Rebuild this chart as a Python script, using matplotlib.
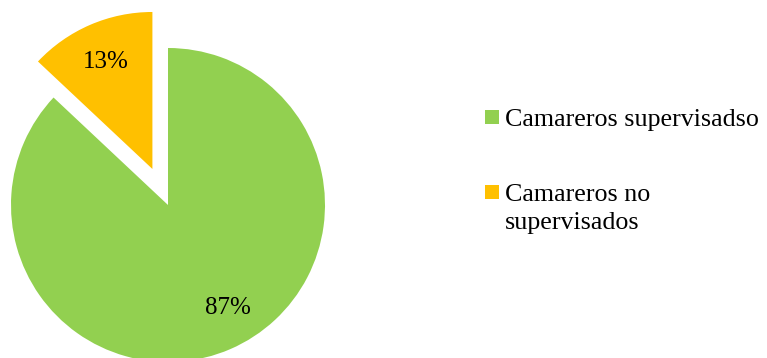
import numpy as np
import matplotlib
matplotlib.use("Agg")
import matplotlib.pyplot as plt
from matplotlib.patches import Rectangle

labels = ["Camareros supervisadso", "Camareros no\nsupervisados"]
values = [87, 13]
colors = ["#92D050", "#FFC000"]
explode = [0, 0.25]

plt.rcParams["font.family"] = ["Liberation Serif", "DejaVu Serif"]

W, H = 767, 358
fig = plt.figure(figsize=(W / 100, H / 100), dpi=100)
ax = fig.add_axes([0, 0, 1, 1])

# pie centre at (168, 205) px, radius 157 px
cx, cy, r = 168, 205, 157

wedges, texts, autotexts = ax.pie(
    values, colors=colors, explode=explode, startangle=90, counterclock=False,
    radius=1, center=(0, 0), autopct="%1.0f%%", pctdistance=0.74,
    wedgeprops=dict(linewidth=0), textprops=dict(fontsize=18, color="black"),
    frame=True,
)
ax.set_xlim(-cx / r, (W - cx) / r)
ax.set_ylim(-(H - cy) / r, cy / r)
ax.set_aspect("auto")
ax.axis("off")

# shift the large slice's label a little toward the right
ang = np.deg2rad(-60)
autotexts[0].set_position((0.76 * np.cos(ang), 0.76 * np.sin(ang)))

# legend
lx, sq = 485, 14
ys = [117, 192]
for lab, col, y in zip(labels, colors, ys):
    fig.patches.append(Rectangle((lx / W, 1 - (y + sq / 2) / H), sq / W, sq / H,
                                 transform=fig.transFigure, facecolor=col,
                                 edgecolor="none"))
    fig.text((lx + 20) / W, 1 - (y - 8) / H, lab, fontsize=18.7, va="top",
             ha="left", linespacing=1.38)

fig.savefig("out.png", dpi=100)
